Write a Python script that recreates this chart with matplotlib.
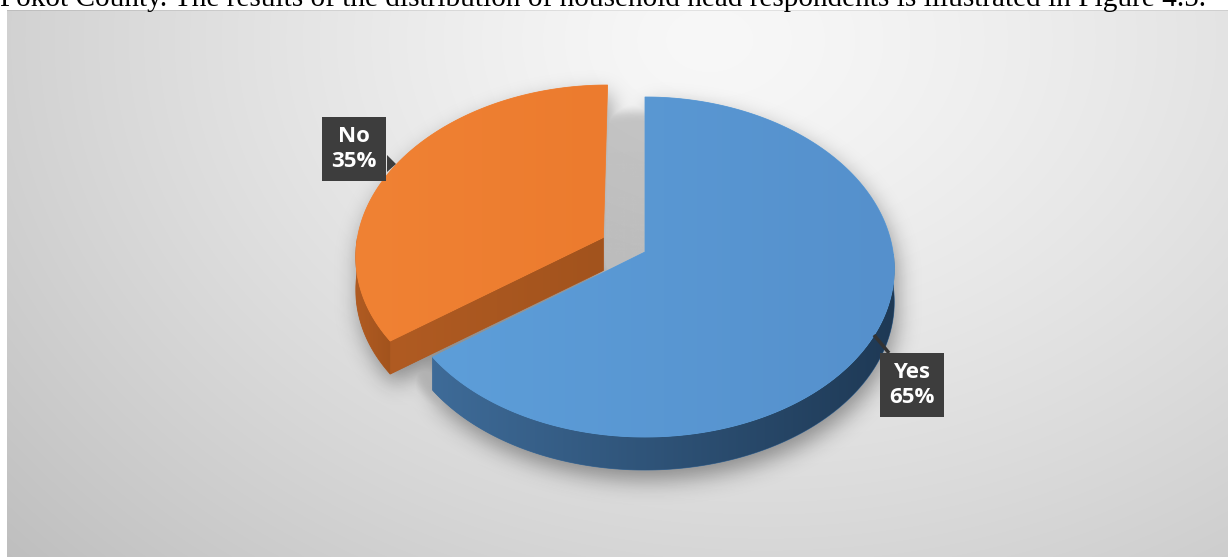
import numpy as np
import matplotlib.pyplot as plt
from matplotlib.patches import Polygon
from matplotlib.path import Path
from matplotlib.colors import LinearSegmentedColormap

# datos
labels = ['Yes', 'No']
values = [65, 35]
explode = [0.0, 0.19]
top_colors = [('#5d9ed9', '#5590cc'), ('#f08234', '#ec7b2e')]
side_colors = [('#3e6b98', '#1e3955'), ('#b05b22', '#a2531d')]
caption = ('Pokot County. The results of the distribution of household head '
           'respondents is illustrated in Figure 4.5.')

W, H = 1231, 557
fig = plt.figure(figsize=(W / 100, H / 100), dpi=100)
ax = fig.add_axes([0, 0, 1, 1])

# fondo con degradado radial
px0, px1, py0, py1 = 7, 1228, 10, H
gx, gy = np.meshgrid(np.arange(px0, px1) + 0.5, np.arange(py0, py1) + 0.5)
r = np.sqrt(((gx - 700) / 800) ** 2 + ((gy - 40) / 600) ** 2)
val = 0.985 - 0.16 * r ** 1.3 - 0.03 * (1 - gx / W)
val[0, :] -= 0.08
bg = np.dstack([val, val, val]).clip(0, 1)
ax.imshow(bg, extent=(px0, px1, py1, py0), zorder=0, interpolation='bilinear')

# proyeccion pseudo 3D
CX, CY = 645, 252
RX, RY = 248, 170
BULGE, PERSP, DEPTH = 15, 0.1, 33


def proj(u, v, z=0.0):
    x = CX + RX * u * (1 - PERSP * v)
    y = CY - RY * v + BULGE * v ** 2 + z
    return np.column_stack([np.atleast_1d(x), np.atleast_1d(y)])


def grad_fill(pts, c1, c2, z):
    poly = Polygon(pts, closed=True, fc=c1, ec=c1, lw=0.6, zorder=z)
    ax.add_patch(poly)
    xmin, ymin = pts.min(axis=0)
    xmax, ymax = pts.max(axis=0)
    cmap = LinearSegmentedColormap.from_list('g', [c1, c2])
    grad = np.linspace(0, 1, 256).reshape(1, -1)
    im = ax.imshow(grad, cmap=cmap, extent=(xmin, xmax, ymax, ymin),
                   aspect='auto', zorder=z, interpolation='bilinear')
    im.set_clip_path(poly)


fracs = np.array(values) / sum(values)
start = 90.0
shapes = []
for i, f in enumerate(fracs):
    a0, a1 = start, start - 360 * f
    start = a1
    mid = np.radians((a0 + a1) / 2)
    du, dv = explode[i] * np.cos(mid), explode[i] * np.sin(mid)
    t = np.radians(np.linspace(a0, a1, 300))
    u, v = du + np.cos(t), dv + np.sin(t)
    top = np.vstack([proj(du, dv), proj(u, v)])
    faces = []
    # cara de corte visible
    for a, n in [(a0, a0 + 90), (a1, a1 - 90)]:
        if np.sin(np.radians(n)) < -0.05:
            ua, va = du + np.cos(np.radians(a)), dv + np.sin(np.radians(a))
            faces.append(np.vstack([proj(du, dv), proj(ua, va),
                                    proj(ua, va, DEPTH), proj(du, dv, DEPTH)]))
    # pared exterior visible
    vis = np.sin(t) < 0
    if vis.any():
        idx = np.where(vis)[0]
        uu, vv = u[idx], v[idx]
        side = np.vstack([proj(uu, vv), proj(uu, vv, DEPTH)[::-1]])
        faces.append(side)
    shapes.append((i, top, faces))

# sombras difusas
yy, xx = np.mgrid[0:H, 0:W]
pts_grid = np.column_stack([xx.ravel() + 0.5, yy.ravel() + 0.5])
ky = np.fft.fftfreq(H)[:, None]
kx = np.fft.fftfreq(W)[None, :]


def soft(polys, shift, sig):
    mask = np.zeros((H, W))
    for p in polys:
        m = Path(p + np.array(shift)).contains_points(pts_grid).reshape(H, W)
        mask = np.maximum(mask, m)
    return np.real(np.fft.ifft2(np.fft.fft2(mask) * np.exp(
        -2 * (np.pi * sig) ** 2 * (kx ** 2 + ky ** 2)))).clip(0, 1)


all_polys = [p for _, top, faces in shapes for p in [top] + faces]
tt = np.linspace(0, 2 * np.pi, 400)
disc = proj(np.cos(tt), np.sin(tt))
tl = np.linspace(np.pi, 2 * np.pi, 200)
disc_side = np.vstack([proj(np.cos(tl), np.sin(tl)),
                       proj(np.cos(tl), np.sin(tl), DEPTH)[::-1]])
alpha = 0.38 * soft(all_polys, (3, 10), 11)
alpha = np.maximum(alpha, 0.2 * soft([disc, disc_side], (0, 14), 5))
shadow = np.zeros((H, W, 4))
shadow[..., 3] = alpha
ax.imshow(shadow, extent=(0, W, H, 0), zorder=1)

# dibujar: primero No (detras), luego Yes
for i, top, faces in sorted(shapes, key=lambda s: -s[0]):
    z = 2 if i == 1 else 5
    for p in faces:
        grad_fill(p, side_colors[i][0], side_colors[i][1], z)
    grad_fill(top, top_colors[i][0], top_colors[i][1], z + 1)

# etiquetas
box = dict(boxstyle='square,pad=0.4', fc='#3d3d3d', ec='none')
txt = dict(ha='center', va='center', color='white', fontweight='bold',
           family=['Open Sans', 'DejaVu Sans'], fontsize=16, linespacing=1.3,
           bbox=box, zorder=10)
ax.text(354, 149, f'{labels[1]}\n{values[1]}%', **txt)
ax.add_patch(Polygon([(387, 155), (396, 164), (387, 172)], fc='#3d3d3d',
                     ec='none', zorder=10))
ax.text(912, 385, f'{labels[0]}\n{values[0]}%', **txt)
ax.plot([874, 889], [335, 353], color='#333333', lw=2.5, zorder=9,
        solid_capstyle='butt')

ax.set_xlim(0, W)
ax.set_ylim(H, 0)
ax.set_aspect('auto')
ax.axis('off')

# texto superior recortado
cap = fig.text(0, 1 - 6.5 / H, caption, family='Liberation Serif', fontsize=18,
               va='baseline', ha='left', color='black', zorder=12)
fig.canvas.draw()
bb = cap.get_window_extent()
cap.set_fontsize(18 * 1205 / bb.width)

fig.savefig('out.png', dpi=100)
